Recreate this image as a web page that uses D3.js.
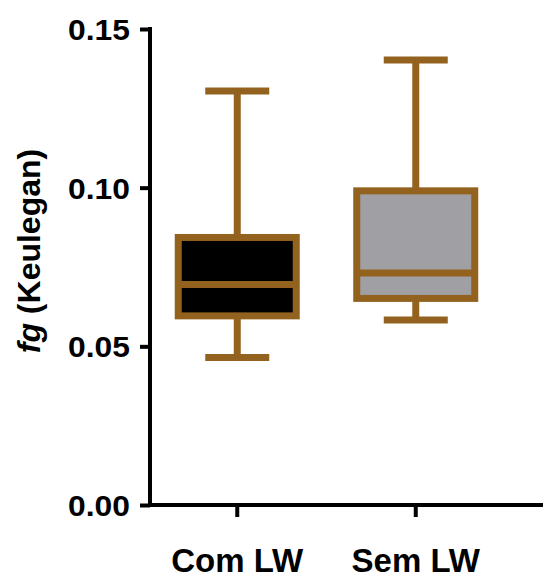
<!DOCTYPE html>
<html>
<head>
<meta charset="utf-8">
<script src="https://cdn.jsdelivr.net/npm/d3@7"></script>
<style>
  html, body { margin: 0; padding: 0; background: #fff; }
  svg { display: block; }
  text { font-family: "Liberation Sans", Arial, sans-serif; font-weight: bold; fill: #000; }
</style>
</head>
<body>
<svg id="chart" width="546" height="578"></svg>
<script>
// Box-and-whisker summaries (min, Q1, median, Q3, max) per group
const categories = ["Com LW", "Sem LW"];
const whiskerLow  = [0.0465, 0.0583];
const quartile1   = [0.0596, 0.0651];
const medians     = [0.0695, 0.0731];
const quartile3   = [0.0843, 0.0990];
const whiskerHigh = [0.1305, 0.1402];
const fills       = ["#000000", "#a0a0a4"];
const yTicks      = [0, 0.05, 0.10, 0.15];

const svg = d3.select("#chart");
const brown = "#93621f";

const y = d3.scaleLinear().domain([0, 0.15]).range([505, 29]);
const x = d3.scaleBand().domain(categories).range([148, 505]);

const boxHalf = 59;
const capHalf = 32;
const boxStroke = 7;

// Y axis
const yAxis = svg.append("g").attr("transform", "translate(150,0)")
  .call(d3.axisLeft(y).tickValues(yTicks).tickFormat(d3.format(".2f")).tickSize(10).tickPadding(9));
yAxis.select(".domain").attr("stroke", "#000").attr("stroke-width", 4)
  .attr("d", `M0,${y(0.15) - 2}V${y(0) + 2}`);
yAxis.selectAll(".tick line").attr("stroke", "#000").attr("stroke-width", 4);
yAxis.selectAll(".tick text").style("font-size", "30px").attr("dy", "0.35em")
  .attr("transform", "scale(1.06,1)");

// X axis
const xAxis = svg.append("g").attr("transform", `translate(0,${y(0)})`)
  .call(d3.axisBottom(x).tickSize(12).tickPadding(32));
xAxis.select(".domain").attr("stroke", "#000").attr("stroke-width", 4)
  .attr("d", "M148,0H543");
xAxis.selectAll(".tick line").attr("stroke", "#000").attr("stroke-width", 4);
xAxis.selectAll(".tick text").style("font-size", "33px");

// Y axis title
const title = svg.append("text")
  .attr("transform", "translate(40,251) rotate(-90)")
  .attr("text-anchor", "middle")
  .style("font-size", "32px");
title.append("tspan").style("font-style", "italic").text("fg");
title.append("tspan").text(" (Keulegan)");

// Boxes
const boxes = svg.append("g").selectAll("g").data(categories).join("g")
  .attr("transform", d => `translate(${x(d) + x.bandwidth() / 2},0)`);

boxes.each(function(d, i) {
  const g = d3.select(this);
  const line = (x1, y1, x2, y2) => g.append("line")
    .attr("x1", x1).attr("y1", y1).attr("x2", x2).attr("y2", y2)
    .attr("stroke", brown).attr("stroke-width", boxStroke);
  // whiskers
  line(0, y(quartile3[i]), 0, y(whiskerHigh[i]));
  line(0, y(quartile1[i]), 0, y(whiskerLow[i]));
  line(-capHalf, y(whiskerHigh[i]), capHalf, y(whiskerHigh[i]));
  line(-capHalf, y(whiskerLow[i]), capHalf, y(whiskerLow[i]));
  // box
  g.append("rect")
    .attr("x", -boxHalf).attr("width", boxHalf * 2)
    .attr("y", y(quartile3[i])).attr("height", y(quartile1[i]) - y(quartile3[i]))
    .attr("fill", fills[i]).attr("stroke", brown).attr("stroke-width", boxStroke);
  // median
  line(-boxHalf, y(medians[i]), boxHalf, y(medians[i]));
});
</script>
</body>
</html>
